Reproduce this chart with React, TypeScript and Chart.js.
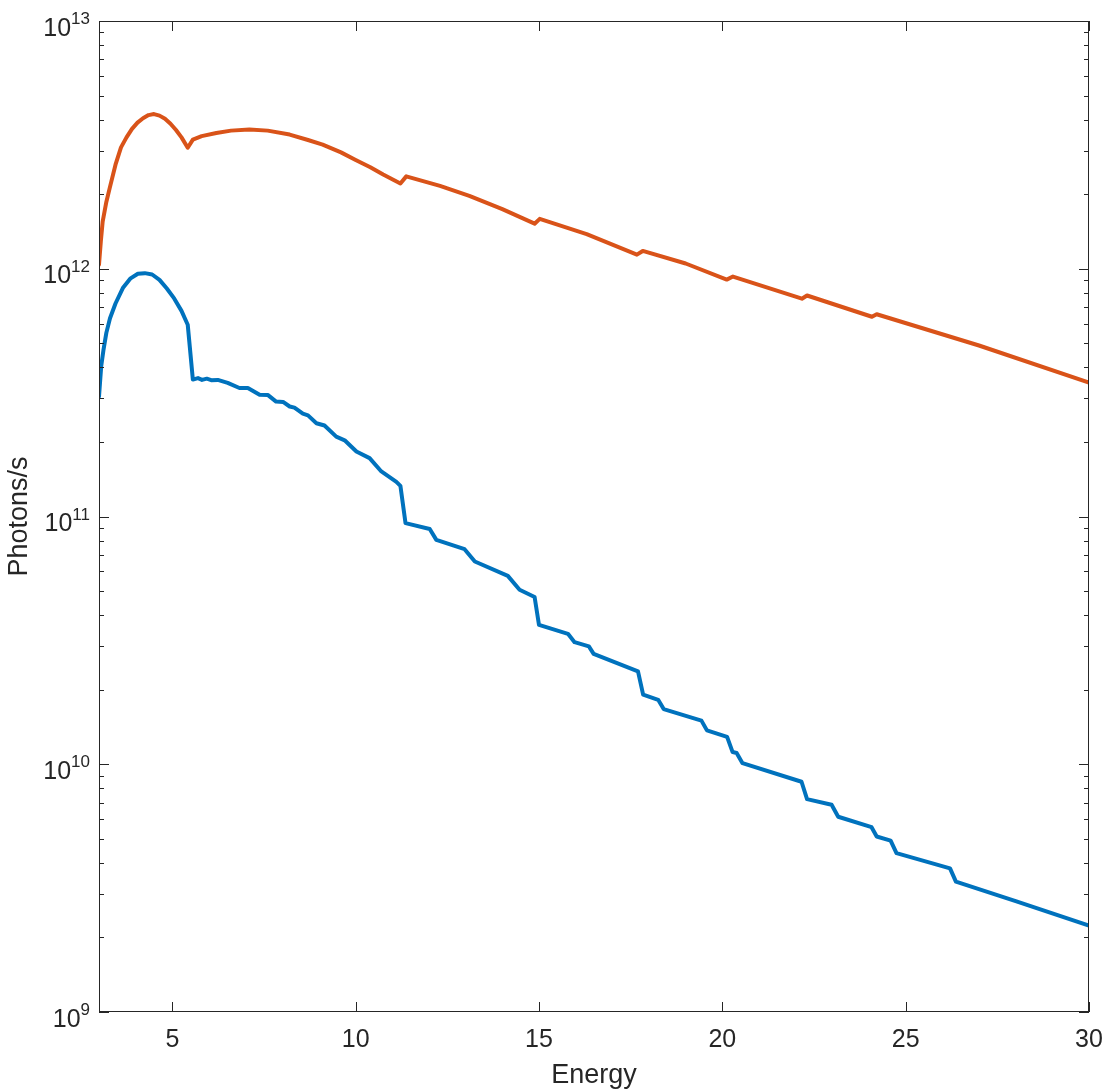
import React, { useEffect, useRef } from "react";
import { Chart, registerables } from "chart.js";

Chart.register(...registerables);

// ---- data ----
const orangeEnergy = [3.0, 3.05, 3.1, 3.2, 3.3, 3.45, 3.6, 3.75, 3.9, 4.05, 4.2, 4.35, 4.5, 4.65, 4.8, 4.95, 5.1, 5.25, 5.42, 5.56, 5.8, 6.2, 6.6, 7.1, 7.6, 8.2, 8.7, 9.1, 9.6, 10.0, 10.4, 10.75, 11.22, 11.38, 12.3, 13.1, 14.0, 14.88, 15.02, 16.3, 17.67, 17.83, 19.0, 20.12, 20.29, 22.17, 22.31, 24.08, 24.21, 27.0, 30.0];
const orangeFlux = [1.04e12, 1.29e12, 1.55e12, 1.86e12, 2.14e12, 2.63e12, 3.09e12, 3.39e12, 3.67e12, 3.89e12, 4.05e12, 4.17e12, 4.21e12, 4.15e12, 4.03e12, 3.85e12, 3.63e12, 3.39e12, 3.08e12, 3.32e12, 3.43e12, 3.53e12, 3.61e12, 3.65e12, 3.61e12, 3.48e12, 3.31e12, 3.17e12, 2.95e12, 2.75e12, 2.57e12, 2.4e12, 2.21e12, 2.36e12, 2.16e12, 1.97e12, 1.74e12, 1.52e12, 1.59e12, 1.38e12, 1.14e12, 1.18e12, 1.05e12, 9.04e11, 9.3e11, 7.57e11, 7.8e11, 6.4e11, 6.55e11, 4.9e11, 3.47e11];

const blueEnergy = [3.0, 3.06, 3.12, 3.2, 3.3, 3.45, 3.65, 3.85, 4.06, 4.25, 4.45, 4.65, 4.85, 5.05, 5.25, 5.42, 5.56, 5.7, 5.81, 5.94, 6.06, 6.24, 6.51, 6.83, 7.06, 7.38, 7.61, 7.83, 8.02, 8.2, 8.33, 8.56, 8.7, 8.93, 9.15, 9.47, 9.7, 10.02, 10.38, 10.7, 11.11, 11.22, 11.36, 12.02, 12.2, 12.97, 13.25, 14.15, 14.47, 14.88, 15.0, 15.79, 15.97, 16.36, 16.49, 17.7, 17.84, 18.25, 18.4, 19.43, 19.58, 20.13, 20.28, 20.39, 20.55, 22.16, 22.31, 22.98, 23.16, 24.07, 24.21, 24.59, 24.75, 26.21, 26.37, 28.0, 30.0];
const blueFlux = [3.05e11, 4.04e11, 4.68e11, 5.51e11, 6.31e11, 7.24e11, 8.36e11, 9.12e11, 9.55e11, 9.6e11, 9.48e11, 9.02e11, 8.32e11, 7.59e11, 6.76e11, 5.94e11, 3.57e11, 3.62e11, 3.56e11, 3.6e11, 3.55e11, 3.56e11, 3.46e11, 3.3e11, 3.3e11, 3.1e11, 3.09e11, 2.91e11, 2.9e11, 2.78e11, 2.75e11, 2.6e11, 2.56e11, 2.38e11, 2.33e11, 2.1e11, 2.03e11, 1.83e11, 1.72e11, 1.52e11, 1.38e11, 1.33e11, 9.4e10, 8.9e10, 8.05e10, 7.38e10, 6.58e10, 5.76e10, 5.06e10, 4.73e10, 3.65e10, 3.36e10, 3.11e10, 2.99e10, 2.79e10, 2.37e10, 1.91e10, 1.82e10, 1.67e10, 1.5e10, 1.37e10, 1.29e10, 1.12e10, 1.11e10, 1.01e10, 8.5e9, 7.23e9, 6.86e9, 6.14e9, 5.57e9, 5.11e9, 4.92e9, 4.38e9, 3.8e9, 3.36e9, 2.8e9, 2.23e9];

const xTicks = [5, 10, 15, 20, 25, 30];
const yDecades = [9, 10, 11, 12, 13];
const xTitle = "Energy";
const yTitle = "Photons/s";

const FONT = "'Liberation Sans', Arial, Helvetica, sans-serif";
const INK = "#262626";

const axesPlugin = {
  id: "matlabAxes",
  afterDatasetsDraw(chart: any) {
    const { ctx, chartArea, scales } = chart;
    const { left, right, top, bottom } = chartArea;
    const xs = scales.x;
    const ys = scales.y;
    ctx.save();
    ctx.strokeStyle = INK;
    ctx.lineWidth = 1;
    // box
    ctx.strokeRect(left + 0.5, top + 0.5, right - left - 1, bottom - top - 1);
    ctx.beginPath();
    // x ticks (inward, bottom and top)
    xTicks.forEach((v) => {
      const px = Math.round(xs.getPixelForValue(v)) + 0.5;
      ctx.moveTo(px, bottom);
      ctx.lineTo(px, bottom - 10);
      ctx.moveTo(px, top);
      ctx.lineTo(px, top + 10);
    });
    // y ticks (major + minor)
    yDecades.forEach((d, i) => {
      const major = Math.pow(10, d);
      const py = Math.round(ys.getPixelForValue(major)) + 0.5;
      ctx.moveTo(left, py);
      ctx.lineTo(left + 10, py);
      ctx.moveTo(right, py);
      ctx.lineTo(right - 10, py);
      if (i < yDecades.length - 1) {
        for (let m = 2; m <= 9; m++) {
          const pm = Math.round(ys.getPixelForValue(m * major)) + 0.5;
          ctx.moveTo(left, pm);
          ctx.lineTo(left + 5, pm);
          ctx.moveTo(right, pm);
          ctx.lineTo(right - 5, pm);
        }
      }
    });
    ctx.stroke();

    // labels
    ctx.fillStyle = INK;
    ctx.font = `25px ${FONT}`;
    ctx.textAlign = "center";
    ctx.textBaseline = "alphabetic";
    xTicks.forEach((v) => {
      ctx.fillText(String(v), xs.getPixelForValue(v), bottom + 35);
    });
    yDecades.forEach((d) => {
      const py = ys.getPixelForValue(Math.pow(10, d));
      const sup = String(d);
      ctx.font = `17px ${FONT}`;
      const sw = ctx.measureText(sup).width;
      const rightEdge = left - 9;
      ctx.textAlign = "left";
      ctx.fillText(sup, rightEdge - sw, py + 3);
      ctx.font = `25px ${FONT}`;
      ctx.textAlign = "right";
      ctx.fillText("10", rightEdge - sw, py + 14.5);
    });
    // axis titles
    ctx.font = `27px ${FONT}`;
    ctx.textAlign = "center";
    ctx.fillText(xTitle, (left + right) / 2, bottom + 71);
    ctx.save();
    ctx.translate(27, (top + bottom) / 2);
    ctx.rotate(-Math.PI / 2);
    ctx.fillText(yTitle, 0, 0);
    ctx.restore();
    ctx.restore();
  },
};

export default function App() {
  const ref = useRef<HTMLCanvasElement | null>(null);
  useEffect(() => {
    if (!ref.current) return;
    const chart = new Chart(ref.current, {
      type: "line",
      data: {
        datasets: [
          {
            label: "blue",
            data: blueEnergy.map((x, i) => ({ x, y: blueFlux[i] })),
            borderColor: "#0072BD",
            borderWidth: 4,
            pointRadius: 0,
            tension: 0,
            fill: false,
            borderJoinStyle: "round",
            borderCapStyle: "round",
          },
          {
            label: "orange",
            data: orangeEnergy.map((x, i) => ({ x, y: orangeFlux[i] })),
            borderColor: "#D95319",
            borderWidth: 4,
            pointRadius: 0,
            tension: 0,
            fill: false,
            borderJoinStyle: "round",
            borderCapStyle: "round",
          },
        ],
      },
      options: {
        animation: false,
        responsive: false,
        layout: { padding: { left: 99, right: 22, top: 21, bottom: 78 } },
        plugins: { legend: { display: false }, tooltip: { enabled: false } },
        scales: {
          x: { type: "linear", min: 3, max: 30, display: false },
          y: { type: "logarithmic", min: 1e9, max: 1e13, display: false },
        },
      },
      plugins: [axesPlugin],
    });
    return () => chart.destroy();
  }, []);
  return (
    <div style={{ position: "absolute", left: 0, top: 0, width: 1111, height: 1090, background: "#fff" }}>
      <canvas ref={ref} width={1111} height={1090} style={{ display: "block" }} />
    </div>
  );
}
